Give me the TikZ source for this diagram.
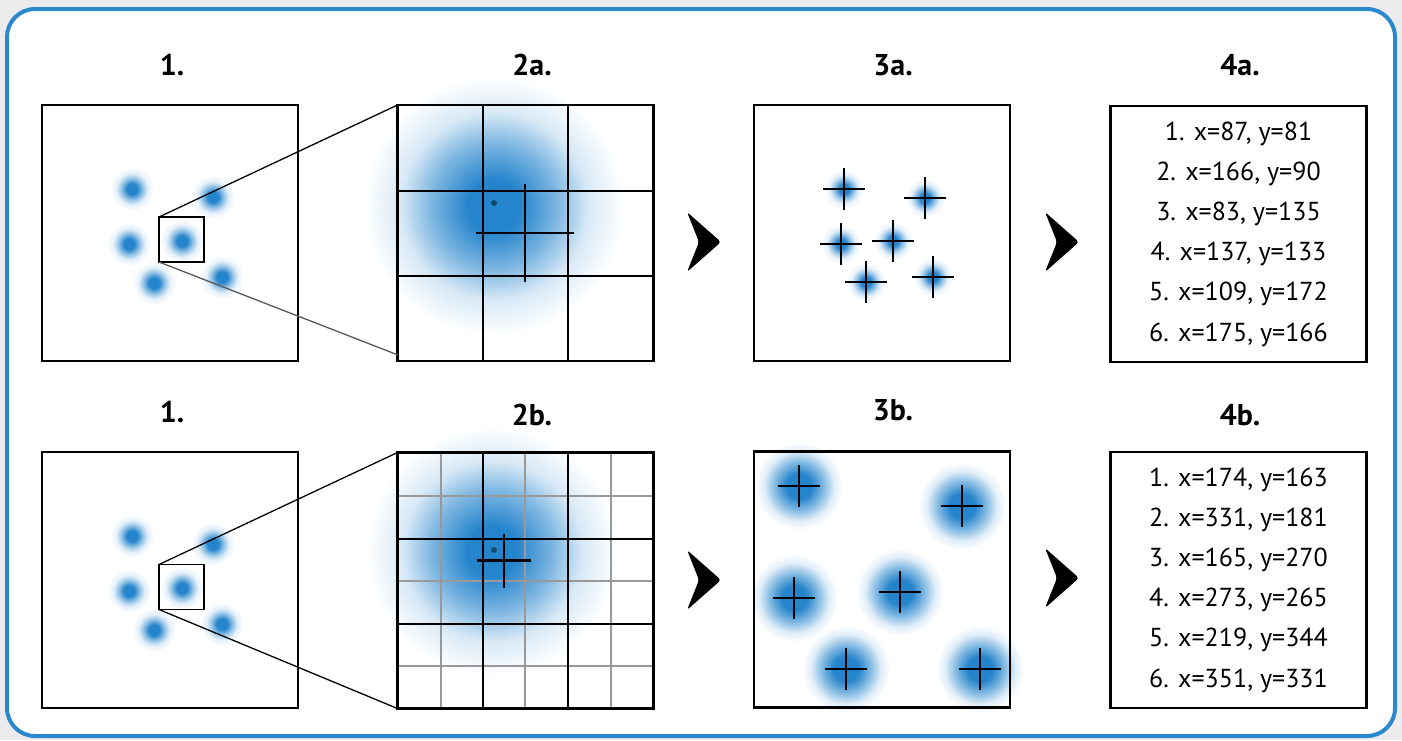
\documentclass[tikz,border=0pt]{standalone}
\usepackage{fontspec}
\setmainfont{PT Sans}
\definecolor{bl}{RGB}{36,132,204}
\definecolor{frameblue}{RGB}{42,136,204}
\definecolor{outerbg}{RGB}{236,236,238}
\pgfdeclareradialshading{blobsmall}{\pgfpoint{0bp}{0bp}}{color(0bp)=(bl); color(6bp)=(bl); color(12bp)=(bl!50!white); color(18bp)=(bl!12!white); color(25bp)=(white); color(50bp)=(white)}
\pgfdeclareradialshading{blobbig}{\pgfpoint{0bp}{0bp}}{color(0bp)=(bl); color(5bp)=(bl); color(12bp)=(bl!60!white); color(18bp)=(bl!18!white); color(25bp)=(white); color(50bp)=(white)}
\pgfdeclareradialshading{blobmid}{\pgfpoint{0bp}{0bp}}{color(0bp)=(bl); color(7bp)=(bl); color(14bp)=(bl!55!white); color(20bp)=(bl!14!white); color(25bp)=(white); color(50bp)=(white)}
\newcommand\blobS[3]{\shade[shading=blobsmall] (#1,#2) circle (#3);}
\newcommand\blobB[3]{\shade[shading=blobbig] (#1,#2) circle (#3);}
\newcommand\blobM[3]{\shade[shading=blobmid] (#1,#2) circle (#3);}
\newcommand\crossmark[3]{\draw[crossline] (#1-#3,#2) -- (#1+#3,#2) (#1,#2-#3) -- (#1,#2+#3);}
\newcommand\chevron[2]{\fill[rounded corners=3pt] (#1-17,#2-30) -- (#1+17,#2) -- (#1-17,#2+30) -- (#1-5,#2) -- cycle;}
\begin{document}
\begin{tikzpicture}[x=1pt,y=-1pt,
  panel/.style={draw, line width=2.6pt, minimum width=256pt, minimum height=256pt, inner sep=0pt, outer sep=0pt},
  zoombox/.style={draw, line width=1.6pt, minimum width=45pt, minimum height=45pt, inner sep=0pt, outer sep=0pt},
  title/.style={font=\bfseries\fontsize{30}{34}\selectfont},
  listtxt/.style={align=center, font=\fontsize{26}{40.2}\selectfont},
  crossline/.style={line width=2.2pt, black},
  gridline/.style={line width=2pt, black},
  fineline/.style={line width=1.2pt, black!40},
  zoomline/.style={line width=1.3pt}]
\useasboundingbox (0,0) rectangle (1402,740);
\fill[outerbg] (0,0) rectangle (1402,740);
\draw[line width=4pt, frameblue, fill=white, rounded corners=28pt] (7,9) rectangle (1395,736);

% ---------- top row ----------
\node[panel] (p1a) at (170,233) {};
\blobS{132}{189}{22}\blobS{213}{197}{22}\blobS{129}{244}{22}
\blobS{182}{241}{22}\blobS{154}{283}{22}\blobS{222}{277}{22}
\node[zoombox] (z1a) at (181.5,239.5) {};

\node[panel] (p2a) at (525.5,233) {};
\blobB{494}{206}{130}
\draw[gridline] (483,105) -- (483,361) (568,105) -- (568,361)
                (397,191) -- (654,191) (397,276) -- (654,276);
\draw[panel, fill=none] (p2a.north west) rectangle (p2a.south east);
\fill[bl!55!black] (494,203) circle (3);
\crossmark{525}{233}{49}

\draw[zoomline] (z1a.north west) -- (p2a.north west);
\coordinate (ea) at (398,355);
\draw[zoomline, black!65] (z1a.south west) -- (ea);

\chevron{704}{242}

\node[panel] (p3a) at (882,233) {};
\blobS{844}{189}{20}\blobS{925}{198}{20}\blobS{841}{244}{20}
\blobS{893}{241}{20}\blobS{866}{282}{20}\blobS{933}{277}{20}
\crossmark{844}{189}{21}\crossmark{925}{198}{21}\crossmark{841}{244}{21}
\crossmark{893}{241}{21}\crossmark{866}{282}{21}\crossmark{933}{277}{21}

\chevron{1062}{242}

\node[panel] (p4a) at (1238.5,234) {};
\node[listtxt] at (p4a) {1. x=87, y=81\\2. x=166, y=90\\3. x=83, y=135\\4. x=137, y=133\\5. x=109, y=172\\6. x=175, y=166};

% ---------- bottom row ----------
\node[panel] (p1b) at (170,580) {};
\blobS{132}{536}{22}\blobS{213}{544}{22}\blobS{129}{591}{22}
\blobS{182}{588}{22}\blobS{154}{630}{22}\blobS{222}{624}{22}
\node[zoombox] (z1b) at (181.5,587) {};

\node[panel] (p2b) at (525.5,580.5) {};
\blobB{492}{551}{125}
\draw[fineline] (441,453) -- (441,708) (525,453) -- (525,708) (611,453) -- (611,708)
                (397,496) -- (654,496) (397,581) -- (654,581) (397,666) -- (654,666);
\draw[gridline] (483,453) -- (483,708) (568,453) -- (568,708)
                (397,539) -- (654,539) (397,624) -- (654,624);
\draw[panel, fill=none] (p2b.north west) rectangle (p2b.south east);
\fill[bl!55!black] (494,550) circle (3);
\crossmark{504}{560.5}{27}

\draw[zoomline] (z1b.north west) -- (p2b.north west);
\draw[zoomline] (z1b.south west) -- (p2b.south west);

\chevron{704}{580}

\node[panel] (p3b) at (882,579.5) {};
\blobM{799}{486}{44}\blobM{962}{506}{44}\blobM{794}{598}{44}
\blobM{900}{592}{44}\blobM{846}{669}{44}\blobM{980}{669}{44}
\draw[panel, fill=none] (p3b.north west) rectangle (p3b.south east);
\crossmark{799}{486}{21}\crossmark{962}{506}{21}\crossmark{794}{598}{21}
\crossmark{900}{592}{21}\crossmark{846}{669}{21}\crossmark{980}{669}{21}

\chevron{1062}{578}

\node[panel] (p4b) at (1238.5,580) {};
\node[listtxt] at (p4b) {1. x=174, y=163\\2. x=331, y=181\\3. x=165, y=270\\4. x=273, y=265\\5. x=219, y=344\\6. x=351, y=331};

% ---------- titles ----------
\node[title] (t1a) at (172,65) {1.};
\node[title] (t2a) at (532,65) {2a.};
\node[title] (t3a) at (893,65) {3a.};
\node[title] (t4a) at (1240,65) {4a.};
\node[title] (t1b) at (172,412) {1.};
\node[title] (t2b) at (532,415) {2b.};
\node[title] (t3b) at (893,410) {3b.};
\node[title] (t4b) at (1240,415) {4b.};
\end{tikzpicture}
\end{document}
